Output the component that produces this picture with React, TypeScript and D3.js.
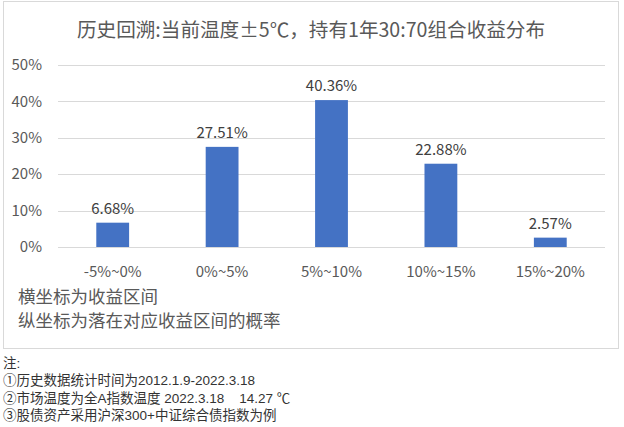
import React from "react";
import * as d3 from "d3";

const categories = ["-5%~0%", "0%~5%", "5%~10%", "10%~15%", "15%~20%"];
const values = [6.68, 27.51, 40.36, 22.88, 2.57];
const yTicks = [0, 10, 20, 30, 40, 50];
const title = "历史回溯:当前温度±5℃，持有1年30:70组合收益分布";
const axisNotes = ["横坐标为收益区间", "纵坐标为落在对应收益区间的概率"];
const footNotes = [
  "注:",
  "①历史数据统计时间为2012.1.9-2022.3.18",
  "②市场温度为全A指数温度 2022.3.18    14.27 ℃",
  "③股债资产采用沪深300+中证综合债指数为例",
];

const W = 624;
const H = 427;
const FONT = "'Noto Sans CJK SC', 'Noto Sans', sans-serif";
const NOTE_FONT = "'Liberation Sans', 'Noto Sans CJK SC', sans-serif";

export default function App() {
  const x = d3
    .scaleBand<string>()
    .domain(categories)
    .range([58, 605])
    .paddingInner(0.7)
    .paddingOuter(0.35);
  const y = d3.scaleLinear().domain([0, 50]).range([247, 65]);

  return (
    <svg
      width={W}
      height={H}
      style={{ position: "absolute", left: 0, top: 0, background: "#fff" }}
      fontFamily={FONT}
    >
      <rect x={0} y={0} width={W} height={H} fill="#fff" />
      <rect x={3.5} y={1.5} width={615} height={347} fill="#fff" stroke="#d9d9d9" strokeWidth={1} />
      <text x={311} y={37} textAnchor="middle" fontSize={19.6} fill="#595959">
        {title}
      </text>
      {yTicks.map((t) => (
        <g key={t}>
          <line x1={58} x2={605} y1={Math.round(y(t)) + 0.5} y2={Math.round(y(t)) + 0.5} stroke="#d9d9d9" strokeWidth={1} />
          <text x={42} y={y(t)} dy="0.35em" textAnchor="end" fontSize={15} fill="#595959">
            {t}%
          </text>
        </g>
      ))}
      {categories.map((c, i) => (
        <g key={c}>
          <rect x={x(c)} y={y(values[i])} width={x.bandwidth()} height={y(0) - y(values[i])} fill="#4472c4" />
          <text
            x={(x(c) as number) + x.bandwidth() / 2}
            y={y(values[i]) - 9}
            textAnchor="middle"
            fontSize={15}
            fill="#404040"
          >
            {values[i].toFixed(2)}%
          </text>
          <text
            x={(x(c) as number) + x.bandwidth() / 2}
            y={272}
            dy="0.35em"
            textAnchor="middle"
            fontSize={15}
            fill="#595959"
          >
            {c}
          </text>
        </g>
      ))}
      {axisNotes.map((t, i) => (
        <text key={t} x={18} y={297 + i * 24} dy="0.35em" fontSize={17.5} fill="#595959">
          {t}
        </text>
      ))}
      {footNotes.map((t, i) => (
        <text
          key={t}
          x={3}
          y={363 + i * 17.5}
          dy="0.35em"
          fontSize={13.5}
          fill="#333"
          fontFamily={NOTE_FONT}
          style={{ whiteSpace: "pre" }}
        >
          {t}
        </text>
      ))}
    </svg>
  );
}
